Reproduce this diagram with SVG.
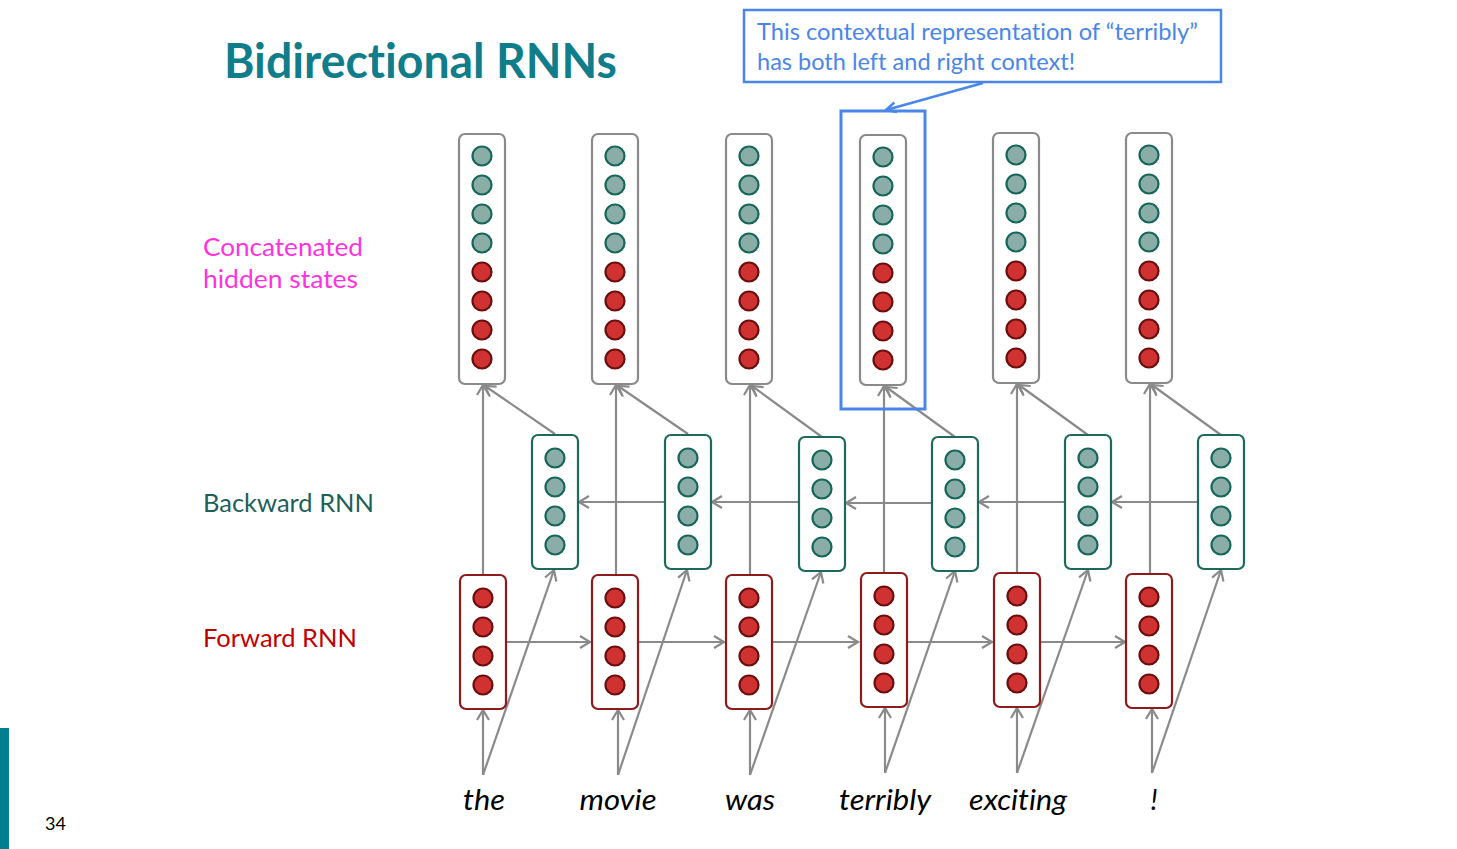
<svg xmlns="http://www.w3.org/2000/svg" width="1457" height="849" viewBox="0 0 1457 849">
<defs>
<style>
text{font-variant-ligatures:none;font-feature-settings:"liga" 0,"dlig" 0}
.cat{fill:#fff;stroke:#8a8a8a;stroke-width:2.2}
.bwd{fill:#fff;stroke:#1d6a5c;stroke-width:2.2}
.fwd{fill:#fff;stroke:#8e1b1b;stroke-width:2.2}
.tc{fill:#8aaea7;stroke:#17665a;stroke-width:2.2}
.rc{fill:#d03232;stroke:#6a0e0e;stroke-width:2.2}
.ln{stroke:#8a8a8a;stroke-width:2.2;fill:none;marker-end:url(#ah)}
.word{font-family:Lato,"Liberation Sans",sans-serif;font-style:italic;font-size:28px;fill:#000;text-anchor:middle}
.lbl{font-family:Lato,"Liberation Sans",sans-serif;font-size:25px}
</style>
<marker id="ah" markerUnits="userSpaceOnUse" markerWidth="16" markerHeight="16" viewBox="-12 -8 14 16" refX="0" refY="0" orient="auto">
<path d="M-10,-6 L0,0 L-10,6" fill="none" stroke="#8a8a8a" stroke-width="2.2"/>
</marker>
<marker id="bh" markerUnits="userSpaceOnUse" markerWidth="16" markerHeight="16" viewBox="-12 -8 14 16" refX="0" refY="0" orient="auto">
<path d="M-10,-5 L0,0 L-10,5" fill="none" stroke="#4a86e8" stroke-width="2.5"/>
</marker>
<g id="catcol">
<rect class="cat" x="-23" y="0" width="46" height="250" rx="6"/>
<circle class="tc" cx="0" cy="22" r="9.5"/>
<circle class="tc" cx="0" cy="51" r="9.5"/>
<circle class="tc" cx="0" cy="80" r="9.5"/>
<circle class="tc" cx="0" cy="109" r="9.5"/>
<circle class="rc" cx="0" cy="138" r="9.5"/>
<circle class="rc" cx="0" cy="167" r="9.5"/>
<circle class="rc" cx="0" cy="196" r="9.5"/>
<circle class="rc" cx="0" cy="225" r="9.5"/>
</g>
<g id="bwdcol">
<rect class="bwd" x="-23" y="0" width="46" height="134" rx="6"/>
<circle class="tc" cx="0" cy="23" r="9.5"/>
<circle class="tc" cx="0" cy="52" r="9.5"/>
<circle class="tc" cx="0" cy="81" r="9.5"/>
<circle class="tc" cx="0" cy="110" r="9.5"/>
</g>
<g id="fwdcol">
<rect class="fwd" x="-23" y="0" width="46" height="134" rx="6"/>
<circle class="rc" cx="0" cy="23" r="9.5"/>
<circle class="rc" cx="0" cy="52" r="9.5"/>
<circle class="rc" cx="0" cy="81" r="9.5"/>
<circle class="rc" cx="0" cy="110" r="9.5"/>
</g>
</defs>
<rect width="1457" height="849" fill="#fff"/>
<rect x="0" y="728" width="9" height="121" fill="#007f8e"/>
<text x="45" y="830" font-family="Lato,'Liberation Sans',sans-serif" font-size="18" fill="#000">34</text>
<text x="224" y="78" font-family="Lato,'Liberation Sans',sans-serif" font-weight="bold" font-size="48" fill="#0f7d8a" textLength="393" lengthAdjust="spacingAndGlyphs">Bidirectional RNNs</text>

<text class="lbl" x="203" y="256" fill="#ff33dd" textLength="160" lengthAdjust="spacingAndGlyphs">Concatenated</text>
<text class="lbl" x="203" y="288" fill="#ff33dd" textLength="155" lengthAdjust="spacingAndGlyphs">hidden states</text>
<text class="lbl" x="203" y="512" fill="#1f5f5a" textLength="171" lengthAdjust="spacingAndGlyphs">Backward RNN</text>
<text class="lbl" x="203" y="647" fill="#c00000" textLength="154" lengthAdjust="spacingAndGlyphs">Forward RNN</text>

<g id="connectors">
<line class="ln" x1="506" y1="642" x2="590" y2="642"/>
<line class="ln" x1="639" y1="642" x2="724" y2="642"/>
<line class="ln" x1="773" y1="642" x2="858" y2="642"/>
<line class="ln" x1="907" y1="642" x2="992" y2="642"/>
<line class="ln" x1="1041" y1="642" x2="1125" y2="642"/>
<line class="ln" x1="1198" y1="502" x2="1112" y2="502"/>
<line class="ln" x1="1065" y1="502" x2="979" y2="502"/>
<line class="ln" x1="932" y1="503" x2="846" y2="503"/>
<line class="ln" x1="799" y1="502" x2="712" y2="502"/>
<line class="ln" x1="665" y1="502" x2="579" y2="502"/>
<line class="ln" x1="483" y1="574" x2="483" y2="385"/>
<line class="ln" x1="616" y1="575" x2="616" y2="385"/>
<line class="ln" x1="750" y1="575" x2="750" y2="385"/>
<line class="ln" x1="884" y1="573" x2="884" y2="386"/>
<line class="ln" x1="1017" y1="573" x2="1017" y2="384"/>
<line class="ln" x1="1150" y1="574" x2="1150" y2="384"/>
<line class="ln" x1="555" y1="434" x2="485" y2="386"/>
<line class="ln" x1="688" y1="434" x2="618" y2="386"/>
<line class="ln" x1="822" y1="437" x2="752" y2="386"/>
<line class="ln" x1="955" y1="437" x2="886" y2="387"/>
<line class="ln" x1="1088" y1="435" x2="1019" y2="385"/>
<line class="ln" x1="1221" y1="435" x2="1152" y2="385"/>
<line class="ln" x1="483" y1="775" x2="483" y2="710"/>
<line class="ln" x1="618" y1="775" x2="618" y2="710"/>
<line class="ln" x1="750" y1="775" x2="750" y2="710"/>
<line class="ln" x1="885" y1="773" x2="885" y2="708"/>
<line class="ln" x1="1017" y1="773" x2="1017" y2="708"/>
<line class="ln" x1="1152" y1="773" x2="1152" y2="709"/>
<line class="ln" x1="483" y1="775" x2="554" y2="570"/>
<line class="ln" x1="618" y1="775" x2="687" y2="570"/>
<line class="ln" x1="750" y1="775" x2="821" y2="572"/>
<line class="ln" x1="885" y1="773" x2="955" y2="571"/>
<line class="ln" x1="1017" y1="773" x2="1088" y2="570"/>
<line class="ln" x1="1152" y1="773" x2="1221" y2="570"/>
<line x1="983" y1="83" x2="886" y2="110" stroke="#4a86e8" stroke-width="2.5" marker-end="url(#bh)"/>
</g>

<g id="concat-nodes">
<use id="cat-the" href="#catcol" x="482" y="134"/>
<use id="cat-movie" href="#catcol" x="615" y="134"/>
<use id="cat-was" href="#catcol" x="749" y="134"/>
<use id="cat-terribly" href="#catcol" x="883" y="135"/>
<use id="cat-exciting" href="#catcol" x="1016" y="133"/>
<use id="cat-excl" href="#catcol" x="1149" y="133"/>
</g>
<g id="backward-nodes">
<use id="bwd-the" href="#bwdcol" x="555" y="435"/>
<use id="bwd-movie" href="#bwdcol" x="688" y="435"/>
<use id="bwd-was" href="#bwdcol" x="822" y="437"/>
<use id="bwd-terribly" href="#bwdcol" x="955" y="437"/>
<use id="bwd-exciting" href="#bwdcol" x="1088" y="435"/>
<use id="bwd-excl" href="#bwdcol" x="1221" y="435"/>
</g>
<g id="forward-nodes">
<use id="fwd-the" href="#fwdcol" x="483" y="575"/>
<use id="fwd-movie" href="#fwdcol" x="615" y="575"/>
<use id="fwd-was" href="#fwdcol" x="749" y="575"/>
<use id="fwd-terribly" href="#fwdcol" x="884" y="573"/>
<use id="fwd-exciting" href="#fwdcol" x="1017" y="573"/>
<use id="fwd-excl" href="#fwdcol" x="1149" y="574"/>
</g>

<g id="highlight">
<rect x="841" y="111" width="84" height="298" fill="none" stroke="#4a86e8" stroke-width="3"/>
</g>
<g id="callout">
<rect x="744" y="10" width="477" height="72" fill="#fff" stroke="#4a86e8" stroke-width="2.5"/>
<text x="757" y="40" font-family="Lato,'Liberation Sans',sans-serif" font-size="23" fill="#4a86e8" textLength="441" lengthAdjust="spacingAndGlyphs">This contextual representation of “terribly”</text>
<text x="757" y="70" font-family="Lato,'Liberation Sans',sans-serif" font-size="23" fill="#4a86e8" textLength="318" lengthAdjust="spacingAndGlyphs">has both left and right context!</text>
</g>

<g id="words">
<text class="word" x="484" y="810" textLength="42" lengthAdjust="spacingAndGlyphs">the</text>
<text class="word" x="618" y="810" textLength="77" lengthAdjust="spacingAndGlyphs">movie</text>
<text class="word" x="750" y="810" textLength="50" lengthAdjust="spacingAndGlyphs">was</text>
<text class="word" x="885" y="810" textLength="92" lengthAdjust="spacingAndGlyphs">terribly</text>
<text class="word" x="1018" y="810" textLength="98" lengthAdjust="spacingAndGlyphs">exciting</text>
<text class="word" x="1154" y="810">!</text>
</g>
</svg>
